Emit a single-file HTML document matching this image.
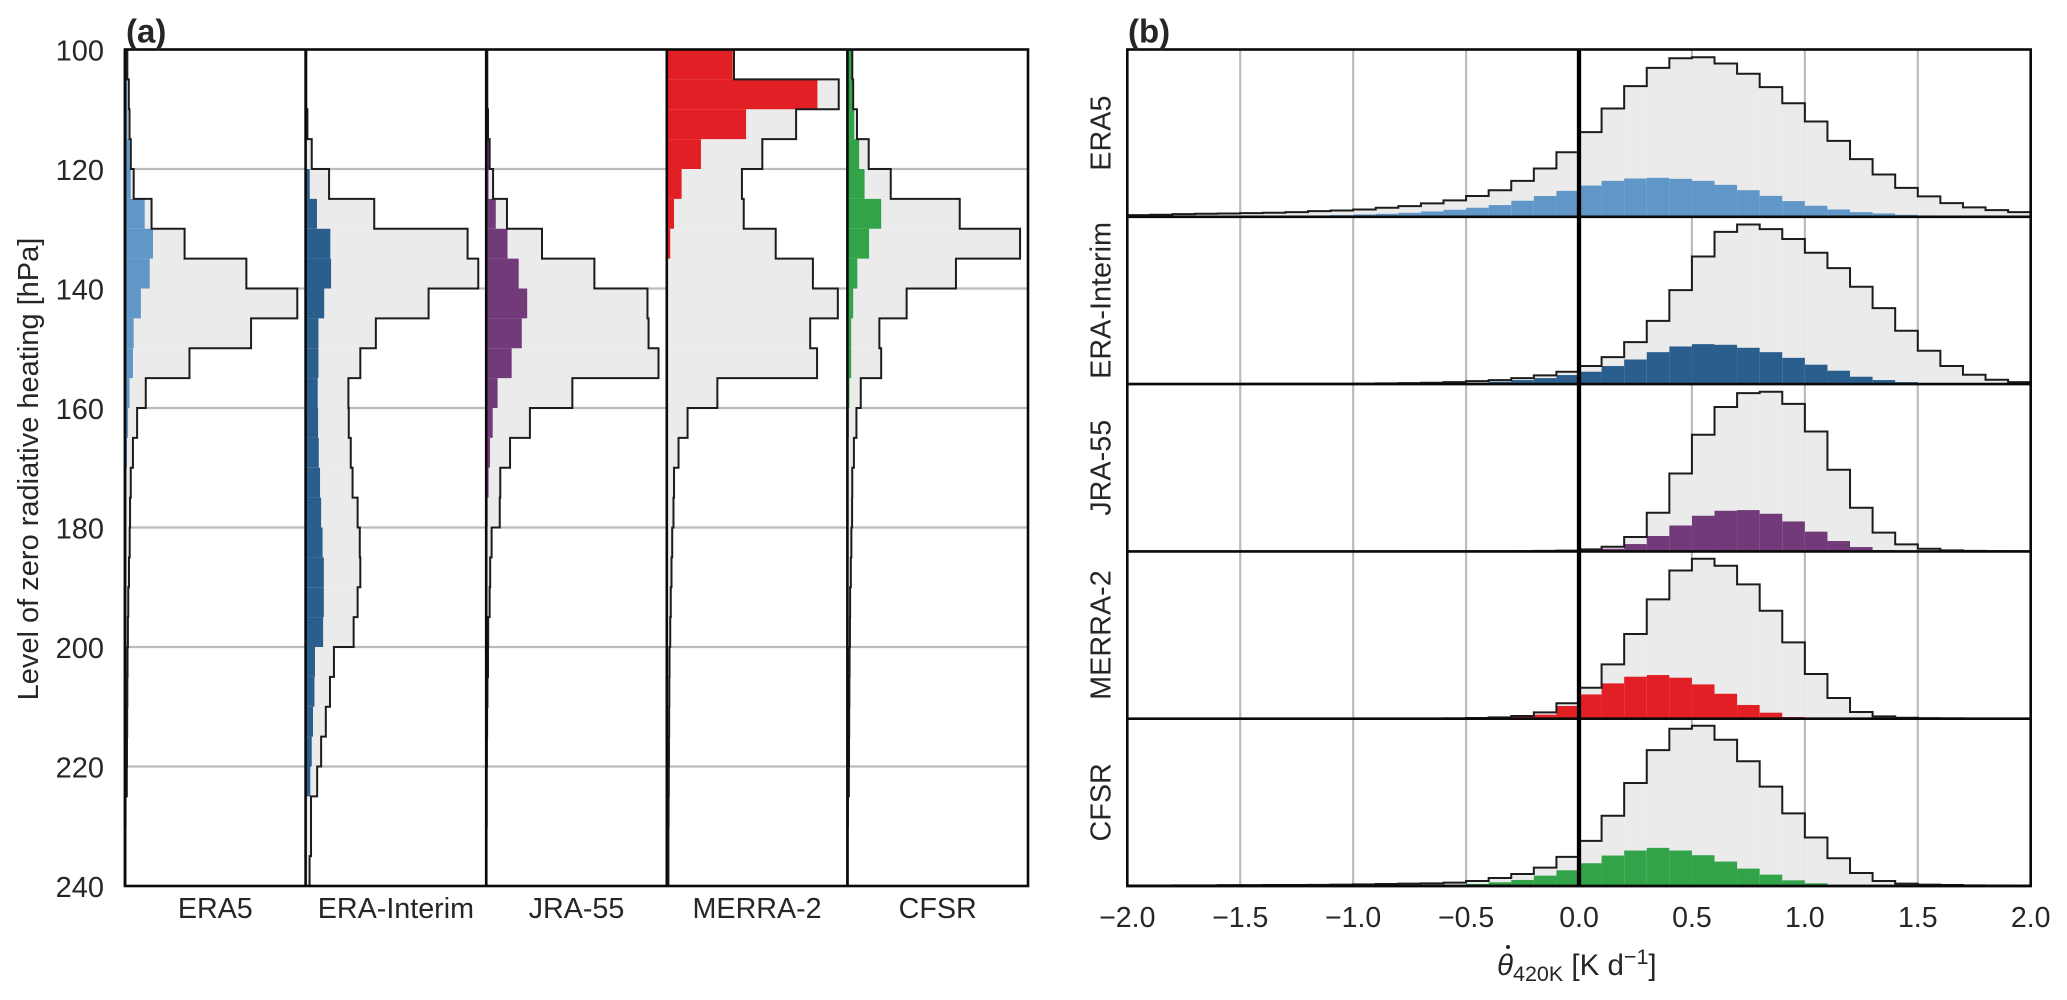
<!DOCTYPE html>
<html lang="en">
<head>
<meta charset="utf-8">
<title>Level of zero radiative heating and heating rate histograms</title>
<style>
html,body{margin:0;padding:0;background:#fff;}
svg{display:block;}
text{font-family:"Liberation Sans",Arial,sans-serif;fill:#262626;}
</style>
</head>
<body>
<svg id="chart" xmlns="http://www.w3.org/2000/svg" width="2067" height="1000" viewBox="0 0 2067 1000"></svg>
<script>
// ---------- categories and bins ----------
const reanalyses = ['ERA5', 'ERA-Interim', 'JRA-55', 'MERRA-2', 'CFSR'];
const seriesColors = ['#6097c8', '#2a5f8d', '#733a7a', '#e31f26', '#33a34a'];
const levelBins = [100,105,110,115,120,125,130,135,140,145,150,155,160,165,170,175,180,185,190,195,200,205,210,215,220,225,230,235];
const thetaBins = [-2.0,-1.9,-1.8,-1.7,-1.6,-1.5,-1.4,-1.3,-1.2,-1.1,-1.0,-0.9,-0.8,-0.7,-0.6,-0.5,-0.4,-0.3,-0.2,-0.1,0.0,0.1,0.2,0.3,0.4,0.5,0.6,0.7,0.8,0.9,1.0,1.1,1.2,1.3,1.4,1.5,1.6,1.7,1.8,1.9];
const levelBinWidth = 5;
const thetaBinWidth = 0.1;

// ---------- tick labels ----------
const pressureTicks = [100,120,140,160,180,200,220,240];
const thetaTicks = [-2.0,-1.5,-1.0,-0.5,0.0,0.5,1.0,1.5,2.0];
const thetaTickLabels = ['\u22122.0','\u22121.5','\u22121.0','\u22120.5','0.0','0.5','1.0','1.5','2.0'];

// ---------- panel (a): frequency per 5 hPa level bin, relative units ----------
const era5LevelAll = [1.3,2.1,2.5,3.2,4.8,14.7,33,67.2,95.4,69.8,35.7,11.5,6.7,4.4,3.2,2.8,2.6,2.2,1.8,1.6,1.4,1.3,1.2,1.1,1,0.3,0.2,0.2];
const era5LevelSub = [0.5,1.2,1.4,2.5,3.2,10.9,15.5,13.7,8.8,4.8,4.4,2.5,1.7,1.1,0.7,0.5,0.3,0.2,0.2,0.2,0.1,0.1,0.1,0.1,0.1,0,0,0];
const eraiLevelAll = [0.4,0.4,1,3.4,13,38,89.7,95.6,68.1,38.9,30.3,23.7,23.9,25,26,28.8,30,30.3,28.8,26.6,15.7,13.5,11.2,8.6,6.4,3,3,2.2];
const eraiLevelSub = [0,0,0,0,2.3,6.3,13.7,14.1,10.3,7.1,7.1,6.7,6.9,7.3,8,8.6,9.4,10.1,10.1,9.7,5.2,4.9,4.1,3.4,2.6,0,0,0];
const jraLevelAll = [0.6,0.6,1,1.9,3.8,11.5,30.9,59.9,89.3,89.9,95.4,47.7,24.2,13.2,7.8,7.5,3,2.2,1.9,1.1,1,0.7,0.5,0.4,0.3,0.3,0.2,0.2];
const jraLevelSub = [0.2,0.2,0.2,1.9,1.3,5.3,11.8,18,22.7,19.7,14.1,6.3,3.6,2.1,1.3,0.8,0.3,0.2,0.1,0.1,0,0,0,0,0,0,0,0];
const merraLevelAll = [37.2,95.2,71.6,52.9,41.6,42.6,60.3,80.9,94.7,79.4,83.2,28,11.5,6.5,4,3.7,3,2.6,2.2,1.9,1.5,1.4,1.3,1.2,1.1,1,0.9,0.9];
const merraLevelSub = [36.5,83.4,43.9,18.9,8.2,4,1.9,0.6,0,0,0,0,0,0,0,0,0,0,0,0,0,0,0,0,0,0,0,0];
const cfsrLevelAll = [2.7,3.2,5.3,11.8,24,62.2,95.6,60.1,32.8,17.7,18.7,7.4,5,3.6,2.7,2.6,2.2,1.9,1.5,1.4,1.2,1.1,1,0.9,0.8,0.3,0.2,0.2];
const cfsrLevelSub = [2.3,2.7,3.8,6.5,9.5,18.7,12,5.5,3.2,2.1,2.1,1.1,0.8,0.5,0.3,0.2,0.2,0.2,0.1,0.1,0.1,0.1,0.1,0.1,0.1,0,0,0];

// ---------- panel (b): frequency per 0.1 K/d bin, relative units ----------
const era5ThetaAll = [1,1.2,1.6,1.8,2,2.2,2.4,2.8,3.4,3.8,4.4,5.4,6.4,8,9.8,12.4,15.9,21.5,28.9,38.6,50.6,64.7,78.1,89,94.8,95.4,91.6,85.5,77.5,67.9,57,45.4,34.5,25.3,17.3,12.2,8.2,5.6,4,2.8];
const era5ThetaSub = [0,0,0,0,0.1,0.2,0.3,0.5,0.8,1,1.4,1.8,2.4,3.2,4.2,5.4,7,9.6,12.4,15.5,18.7,21.5,22.9,23.3,22.7,21.5,19.1,15.9,12.5,9.4,6.6,4.4,2.8,2,1.2,0.8,0.4,0.2,0.1,0.1];
const eraiThetaAll = [0.1,0.1,0.1,0.1,0.1,0.2,0.2,0.2,0.2,0.2,0.3,0.4,0.6,0.8,1.2,1.8,2.4,3.6,5.2,7.4,10.8,16.1,25.1,37.8,56.2,76.3,91,95.4,92.6,86.7,78.5,69.3,58.2,45.4,31.9,19.9,10.8,5.6,2.6,1.2];
const eraiThetaSub = [0,0,0,0,0,0,0,0,0,0,0,0,0,0.2,0.4,0.8,1.4,2.4,3.6,5.4,7.4,10.8,14.7,19.1,22.5,23.9,23.5,21.7,19.1,15.7,11.6,8,4.4,2.4,1.2,0.4,0.1,0,0,0];
const jraThetaAll = [0,0,0,0,0,0,0,0,0,0,0,0,0.1,0.1,0.1,0.1,0.1,0.2,0.3,0.5,1.2,2.8,8.6,23.1,46.6,69.7,86.3,94.6,95.4,88.2,71.7,48.8,26.1,11.2,4.2,1.6,0.6,0.3,0.2,0.1];
const jraThetaSub = [0,0,0,0,0,0,0,0,0,0,0,0,0,0,0,0,0,0,0,0,0.1,1.6,4.4,9.2,15.5,21.3,24.3,24.7,22.5,17.9,11.8,6.2,2.6,0.8,0.1,0,0,0,0,0];
const merraThetaAll = [0,0,0,0,0,0,0,0,0,0,0,0,0,0,0.2,0.4,0.8,1.6,3.8,9.2,18.5,32.5,50.6,71.3,88.6,95.6,91.4,80.3,64.5,45.6,26.7,12.4,4,1.4,0.6,0.3,0.2,0.1,0,0];
const merraThetaSub = [0,0,0,0,0,0,0,0,0,0,0,0,0,0,0,0,0.3,1,2.4,7.6,14.5,21.1,25.1,26.1,24.5,20.5,14.9,8.2,3.6,1,0.2,0,0,0,0,0,0,0,0,0];
const cfsrThetaAll = [0.3,0.3,0.4,0.4,0.5,0.5,0.6,0.6,0.7,0.8,1,1.2,1.4,1.6,2,3,4.8,7.2,11,17.4,27,42,61.6,81.2,94,95.8,87.4,74.6,59.4,43.4,29,16.6,7.8,3,1.4,0.8,0.6,0.4,0.3,0.2];
const cfsrThetaSub = [0,0,0,0,0,0,0,0,0,0,0,0.1,0.2,0.3,0.6,1.2,2.2,3.6,6.2,9.4,13.6,18.2,21.2,22.8,21.2,18.4,14.6,10.4,6.8,3.4,1.6,0.4,0.1,0,0,0,0,0,0,0];

const levelAll = [era5LevelAll, eraiLevelAll, jraLevelAll, merraLevelAll, cfsrLevelAll];
const levelSub = [era5LevelSub, eraiLevelSub, jraLevelSub, merraLevelSub, cfsrLevelSub];
const thetaAll = [era5ThetaAll, eraiThetaAll, jraThetaAll, merraThetaAll, cfsrThetaAll];
const thetaSub = [era5ThetaSub, eraiThetaSub, jraThetaSub, merraThetaSub, cfsrThetaSub];

// ---------- layout and axis functions ----------
const A = {left: 125, right: 1028, top: 49.5, bottom: 886};
const B = {left: 1127.3, right: 2030.7, top: 49.5, bottom: 886};
const subW = (A.right - A.left) / reanalyses.length;
const rowH = (B.bottom - B.top) / reanalyses.length;
const FREQ_MAX = 100;
function yLevel(p) { return A.top + (p - 100) / (240 - 100) * (A.bottom - A.top); }
function xFreq(i, v) { return A.left + i * subW + v / FREQ_MAX * subW; }
function xTheta(t) { return B.left + (t + 2) / 4 * (B.right - B.left); }
function yFreq(r, v) { return B.top + (r + 1) * rowH - v / FREQ_MAX * rowH; }

const svg = document.getElementById('chart');
const NS = 'http://www.w3.org/2000/svg';
function make(tag, props, parent) {
  const el = document.createElementNS(NS, tag);
  for (const k in props) el.setAttribute(k, props[k]);
  (parent || svg).appendChild(el);
  return el;
}
function slug(s) { return s.toLowerCase().replace(/[^a-z0-9]+/g, '-'); }

// ---------- gridlines ----------
pressureTicks.slice(1, -1).forEach(function (p) {
  const el = make('line', {x1: A.left, x2: A.right, y1: yLevel(p), y2: yLevel(p), stroke: '#bcbcbc', 'stroke-width': 2.2});
  
  
});
thetaTicks.forEach(function (t) {
  if (t === 0 || Math.abs(t) === 2) return;
  const el = make('line', {x1: xTheta(t), x2: xTheta(t), y1: B.top, y2: B.bottom, stroke: '#bcbcbc', 'stroke-width': 2.2});
  
  
});

// ---------- panel (a) histograms ----------
reanalyses.forEach(function (name, i) {
  const group = make('g', {});
  
  
  levelBins.forEach(function (p, k) {
    const y0 = yLevel(p), y1 = yLevel(p + levelBinWidth);
    const v = levelAll[i][k];
    const bar = make('rect', {x: xFreq(i, 0), y: y0, width: xFreq(i, v) - xFreq(i, 0), height: y1 - y0, fill: '#ebebeb'}, group);
    
    
  });
  levelBins.forEach(function (p, k) {
    const y0 = yLevel(p), y1 = yLevel(p + levelBinWidth);
    const v = levelSub[i][k];
    if (v <= 0) return;
    const bar = make('rect', {x: xFreq(i, 0), y: y0, width: xFreq(i, v) - xFreq(i, 0), height: y1 - y0, fill: seriesColors[i]}, group);
    
    
  });
  let d = 'M' + xFreq(i, 0) + ' ' + yLevel(levelBins[0]);
  levelBins.forEach(function (p, k) {
    const x = xFreq(i, levelAll[i][k]);
    d += 'L' + x + ' ' + yLevel(p) + 'L' + x + ' ' + yLevel(p + levelBinWidth);
  });
  const outline = make('path', {d: d, fill: 'none', stroke: '#1c1c1c', 'stroke-width': 2, 'stroke-linejoin': 'miter'}, group);
  
  

  const sep = make('line', {x1: xFreq(i, 0), x2: xFreq(i, 0), y1: A.top, y2: A.bottom, stroke: '#0a0a0a', 'stroke-width': 2.6});
  
  

  const lab = make('text', {x: xFreq(i, 50), y: 918, 'text-anchor': 'middle', 'font-size': 28.7});
  lab.textContent = name;
  
  
});

// ---------- panel (b) histograms ----------
reanalyses.forEach(function (name, r) {
  const group = make('g', {});
  
  
  thetaBins.forEach(function (t, k) {
    const x0 = xTheta(t), x1 = xTheta(t + thetaBinWidth);
    const v = thetaAll[r][k];
    if (v <= 0) return;
    const bar = make('rect', {x: x0, y: yFreq(r, v), width: x1 - x0, height: yFreq(r, 0) - yFreq(r, v), fill: '#ebebeb'}, group);
    
    
  });
  thetaBins.forEach(function (t, k) {
    const x0 = xTheta(t), x1 = xTheta(t + thetaBinWidth);
    const v = thetaSub[r][k];
    if (v <= 0) return;
    const bar = make('rect', {x: x0, y: yFreq(r, v), width: x1 - x0, height: yFreq(r, 0) - yFreq(r, v), fill: seriesColors[r]}, group);
    
    
  });
  let d = 'M' + xTheta(thetaBins[0]) + ' ' + yFreq(r, 0);
  thetaBins.forEach(function (t, k) {
    const y = yFreq(r, thetaAll[r][k]);
    d += 'L' + xTheta(t) + ' ' + y + 'L' + xTheta(t + thetaBinWidth) + ' ' + y;
  });
  const outline = make('path', {d: d, fill: 'none', stroke: '#1c1c1c', 'stroke-width': 2}, group);
  
  

  const base = make('line', {x1: B.left, x2: B.right, y1: yFreq(r, 0), y2: yFreq(r, 0), stroke: '#0a0a0a', 'stroke-width': 2.6});
  
  

  const cy = yFreq(r, 50);
  const lab = make('text', {x: 0, y: 0, 'text-anchor': 'middle', 'font-size': 28.8, transform: 'translate(1110.5 ' + cy + ') rotate(-90)'});
  lab.textContent = name;
  
  
});

// ---------- zero line ----------
const zeroLine = make('line', {x1: xTheta(0), x2: xTheta(0), y1: B.top, y2: B.bottom, stroke: '#000', 'stroke-width': 4.3});



// ---------- frames ----------
const frameA = make('rect', {x: A.left, y: A.top, width: A.right - A.left, height: A.bottom - A.top, fill: 'none', stroke: '#0a0a0a', 'stroke-width': 2.6});


const frameB = make('rect', {x: B.left, y: B.top, width: B.right - B.left, height: B.bottom - B.top, fill: 'none', stroke: '#0a0a0a', 'stroke-width': 2.6});



// ---------- tick labels ----------
pressureTicks.forEach(function (p) {
  const t = make('text', {x: 104, y: yLevel(p) + 11, 'text-anchor': 'end', 'font-size': 29});
  t.textContent = String(p);
  
  
});
thetaTicks.forEach(function (v, i) {
  const t = make('text', {x: xTheta(v), y: 927, 'text-anchor': 'middle', 'font-size': 28.5});
  t.textContent = thetaTickLabels[i];
  
  
});

// ---------- titles ----------
const yTitle = make('text', {x: 0, y: 0, 'text-anchor': 'middle', 'font-size': 29, transform: 'translate(38 469) rotate(-90)'});
yTitle.textContent = 'Level of zero radiative heating [hPa]';



const xTitle = make('text', {x: 1497, y: 975, 'font-size': 29.5});


const tTheta = make('tspan', {'font-style': 'italic'}, xTitle);
tTheta.textContent = '\u03b8';
const tSub = make('tspan', {'font-size': 21.5, dy: 6}, xTitle);
tSub.textContent = '420K';
const tUnit = make('tspan', {dy: -6}, xTitle);
tUnit.textContent = ' [K d';
const tSup = make('tspan', {'font-size': 21.5, dy: -11}, xTitle);
tSup.textContent = '\u22121';
const tClose = make('tspan', {dy: 11}, xTitle);
tClose.textContent = ']';
const thetaDot = make('circle', {cx: 1508, cy: 947, r: 2, fill: '#262626'});



const labelA = make('text', {x: 126, y: 42.5, 'font-size': 33, 'font-weight': 'bold', fill: '#333'});
labelA.textContent = '(a)';


const labelB = make('text', {x: 1128, y: 42.5, 'font-size': 33, 'font-weight': 'bold', fill: '#333'});
labelB.textContent = '(b)';


</script>
</body>
</html>
